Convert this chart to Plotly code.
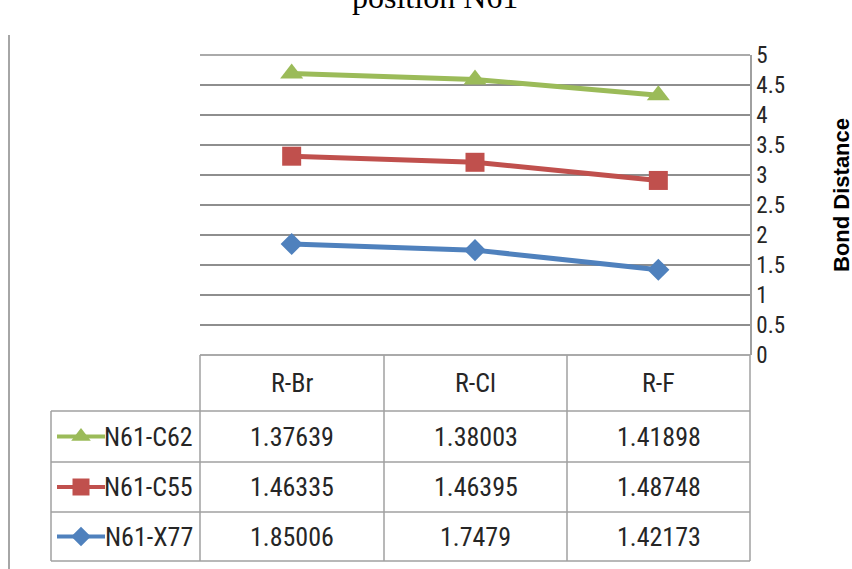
import plotly.graph_objects as go

# ---------------- data ----------------
categories = ["R-Br", "R-Cl", "R-F"]
series_names = ["N61-X77", "N61-C55", "N61-C62"]
n61_x77 = [1.85006, 1.7479, 1.42173]
n61_c55 = [1.46335, 1.46395, 1.48748]
n61_c62 = [1.37639, 1.38003, 1.41898]
y_ticks = [0, 0.5, 1, 1.5, 2, 2.5, 3, 3.5, 4, 4.5, 5]
y_title = "Bond Distance"
chart_title = "position N61"

values = {"N61-X77": n61_x77, "N61-C55": n61_c55, "N61-C62": n61_c62}
colors = {"N61-X77": "#4F81BD", "N61-C55": "#C0504D", "N61-C62": "#9BBB59"}
symbols = {"N61-X77": "diamond", "N61-C55": "square", "N61-C62": "triangle-up"}
msize = {"N61-X77": 17, "N61-C55": 19, "N61-C62": 20}
ksize = {"N61-X77": 15, "N61-C55": 17, "N61-C62": 17}

W, H = 852, 569
FONT = "Liberation Sans Narrow, Arial Narrow, Roboto Condensed, Liberation Sans, sans-serif"
GRID = "#8E8E8E"
TLINE = "#A0A0A0"

def px(x):
    return x / W

def py(y):
    return 1 - y / H

# plot area in pixels
PL, PR, PT, PB = 200, 750, 55, 355

fig = go.Figure()

# stacked lines
for name in series_names:
    fig.add_trace(go.Scatter(
        x=categories, y=values[name], name=name,
        mode="lines+markers", stackgroup="one", fill="none",
        line=dict(color=colors[name], width=5),
        marker=dict(symbol=symbols[name], size=msize[name], color=colors[name],
                    opacity=1, line=dict(width=0)),
        showlegend=False, xaxis="x", yaxis="y",
    ))

# ---------------- table ----------------
col_edges = [PL, 384, 567, PR]
row_edges = [PB, 411, 462, 512, 561]
label_left = 51
shapes = []
for ye in (PT, PB):
    shapes.append(dict(type="line", xref="paper", yref="paper",
                       x0=px(PL), x1=px(PR), y0=py(ye), y1=py(ye),
                       line=dict(color=GRID, width=1.5)))
for xe in col_edges:
    shapes.append(dict(type="line", xref="paper", yref="paper",
                       x0=px(xe), x1=px(xe), y0=py(PB), y1=py(row_edges[-1]),
                       line=dict(color=TLINE, width=1.5)))
shapes.append(dict(type="line", xref="paper", yref="paper",
                   x0=px(label_left), x1=px(label_left), y0=py(row_edges[1]), y1=py(row_edges[-1]),
                   line=dict(color=TLINE, width=1.5)))
for ye in row_edges[1:]:
    shapes.append(dict(type="line", xref="paper", yref="paper",
                       x0=px(label_left), x1=px(PR), y0=py(ye), y1=py(ye),
                       line=dict(color=TLINE, width=1.5)))
shapes.append(dict(type="line", xref="paper", yref="paper",
                   x0=px(9), x1=px(9), y0=py(35), y1=py(H + 5),
                   line=dict(color="#A6A6A6", width=2)))

annotations = []
col_centers = [(col_edges[i] + col_edges[i + 1]) / 2 for i in range(3)]
for c, cx in zip(categories, col_centers):
    annotations.append(dict(text=c, x=px(cx), y=py((row_edges[0] + row_edges[1]) / 2),
                            xref="paper", yref="paper", showarrow=False,
                            xanchor="center", yanchor="middle",
                            font=dict(family=FONT, size=26, color="#262626")))
table_order = ["N61-C62", "N61-C55", "N61-X77"]
for r, name in enumerate(table_order):
    cy = (row_edges[r + 1] + row_edges[r + 2]) / 2
    annotations.append(dict(text=name, x=px(195), y=py(cy), xref="paper", yref="paper",
                            showarrow=False, xanchor="right", yanchor="middle",
                            font=dict(family=FONT, size=26, color="#262626")))
    for v, cx in zip(values[name], col_centers):
        annotations.append(dict(text=str(v), x=px(cx), y=py(cy), xref="paper", yref="paper",
                                showarrow=False, xanchor="center", yanchor="middle",
                                font=dict(family=FONT, size=26, color="#262626")))
    fig.add_trace(go.Scatter(
        x=[57, 105], y=[cy, cy], mode="lines",
        line=dict(color=colors[name], width=4),
        showlegend=False, xaxis="x2", yaxis="y2", hoverinfo="skip",
    ))
    fig.add_trace(go.Scatter(
        x=[81], y=[cy], mode="markers",
        marker=dict(symbol=symbols[name], size=ksize[name], color=colors[name],
                    opacity=1, line=dict(width=0)),
        showlegend=False, xaxis="x2", yaxis="y2", hoverinfo="skip",
    ))

annotations.append(dict(text=chart_title, x=px(435), y=py(-3), xref="paper", yref="paper",
                        showarrow=False, xanchor="center", yanchor="middle",
                        font=dict(family="Liberation Serif, Times New Roman, serif", size=32, color="#000000")))
annotations.append(dict(text="<b>" + y_title + "</b>", x=px(841), y=py(195), xref="paper", yref="paper",
                        showarrow=False, xanchor="center", yanchor="middle", textangle=-90,
                        font=dict(family="Liberation Sans, Arial, sans-serif", size=22, color="#000000")))

fig.update_layout(
    width=W, height=H,
    margin=dict(l=0, r=0, t=0, b=0, pad=0),
    paper_bgcolor="white", plot_bgcolor="rgba(0,0,0,0)",
    shapes=shapes, annotations=annotations,
    xaxis=dict(domain=[px(PL), px(PR)], type="category", range=[-0.5, 2.5], anchor="y",
               automargin=False,
               showticklabels=False, showgrid=False, zeroline=False, showline=False, ticks=""),
    yaxis=dict(domain=[py(PB), py(PT)], range=[0, 5], tickvals=y_ticks, anchor="x",
               automargin=False,
               ticktext=[f"{t:g}" for t in y_ticks], side="right",
               showgrid=True, gridcolor=GRID, gridwidth=1.5, zeroline=False,
               showline=True, linecolor=TLINE, linewidth=1.5, ticks="",
               tickfont=dict(family=FONT, size=23, color="#262626")),
    xaxis2=dict(domain=[0, 1], range=[0, W], visible=False, fixedrange=True, anchor="y2",
                automargin=False),
    yaxis2=dict(domain=[0, 1], range=[H, 0], visible=False, fixedrange=True, anchor="x2",
                automargin=False),
    showlegend=False,
)
fig.write_html("out.html", config={"displayModeBar": False},
               post_script="document.body.style.margin='0';document.body.style.overflow='hidden';")
